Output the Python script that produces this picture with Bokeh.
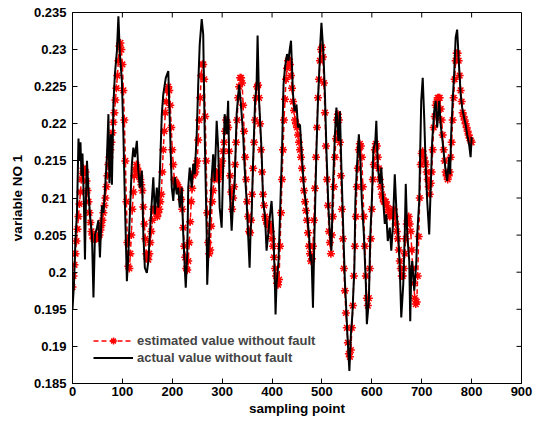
from bokeh.plotting import figure
from bokeh.models import FixedTicker, Legend, LegendItem, Range1d
from bokeh.embed import file_html
from bokeh.resources import INLINE

# estimated value (red, dashed with star markers), one value per 2 sampling points
est_x = list(range(0, 801, 2))
est_y = [
    0.1980, 0.1995, 0.2010, 0.2025, 0.2042, 0.2058, 0.2075, 0.2092, 0.2108, 0.2125,  # 0-18
    0.2133, 0.2140, 0.2138, 0.2135, 0.2123, 0.2110, 0.2095, 0.2080, 0.2067, 0.2055,  # 20-38
    0.2050, 0.2045, 0.2045, 0.2045, 0.2045, 0.2047, 0.2048, 0.2050, 0.2057, 0.2063,  # 40-58
    0.2070, 0.2080, 0.2090, 0.2100, 0.2115, 0.2130, 0.2145, 0.2155, 0.2165, 0.2175,  # 60-78
    0.2188, 0.2202, 0.2215, 0.2232, 0.2248, 0.2265, 0.2285, 0.2305, 0.2309, 0.2300,  # 80-98
    0.2280, 0.2245, 0.2205, 0.2150, 0.2095, 0.2040, 0.2008, 0.2005, 0.2025, 0.2050,  # 100-118
    0.2085, 0.2108, 0.2130, 0.2138, 0.2145, 0.2140, 0.2135, 0.2130, 0.2125, 0.2118,  # 120-138
    0.2110, 0.2088, 0.2065, 0.2045, 0.2025, 0.2018, 0.2017, 0.2025, 0.2040, 0.2055,  # 140-158
    0.2070, 0.2085, 0.2085, 0.2085, 0.2080, 0.2075, 0.2080, 0.2085, 0.2095, 0.2105,  # 160-178
    0.2135, 0.2165, 0.2190, 0.2215, 0.2230, 0.2245, 0.2250, 0.2245, 0.2225, 0.2195,  # 180-198
    0.2165, 0.2145, 0.2125, 0.2122, 0.2120, 0.2118, 0.2115, 0.2112, 0.2110, 0.2098,  # 200-218
    0.2085, 0.2060, 0.2035, 0.2020, 0.2005, 0.2003, 0.2015, 0.2040, 0.2068, 0.2095,  # 220-238
    0.2113, 0.2130, 0.2133, 0.2135, 0.2143, 0.2150, 0.2178, 0.2205, 0.2235, 0.2265,  # 240-258
    0.2280, 0.2280, 0.2260, 0.2210, 0.2150, 0.2080, 0.2040, 0.2025, 0.2030, 0.2062,  # 260-278
    0.2095, 0.2110, 0.2125, 0.2130, 0.2135, 0.2130, 0.2125, 0.2130, 0.2135, 0.2143,  # 280-298
    0.2150, 0.2163, 0.2175, 0.2190, 0.2205, 0.2202, 0.2195, 0.2163, 0.2130, 0.2108,  # 300-318
    0.2085, 0.2100, 0.2115, 0.2145, 0.2175, 0.2205, 0.2235, 0.2250, 0.2262, 0.2262,  # 320-338
    0.2255, 0.2225, 0.2190, 0.2155, 0.2125, 0.2095, 0.2075, 0.2055, 0.2053, 0.2070,  # 340-358
    0.2105, 0.2140, 0.2175, 0.2205, 0.2235, 0.2250, 0.2252, 0.2235, 0.2200, 0.2165,  # 360-378
    0.2135, 0.2105, 0.2090, 0.2075, 0.2070, 0.2065, 0.2065, 0.2065, 0.2060, 0.2055,  # 380-398
    0.2045, 0.2035, 0.2020, 0.2005, 0.1995, 0.1985, 0.1983, 0.1990, 0.2035, 0.2080,  # 400-418
    0.2125, 0.2165, 0.2205, 0.2233, 0.2260, 0.2275, 0.2285, 0.2287, 0.2280, 0.2265,  # 420-438
    0.2248, 0.2230, 0.2218, 0.2205, 0.2200, 0.2195, 0.2185, 0.2175, 0.2165, 0.2155,  # 440-458
    0.2140, 0.2125, 0.2110, 0.2095, 0.2083, 0.2070, 0.2053, 0.2035, 0.2025, 0.2015,  # 460-478
    0.2018, 0.2035, 0.2070, 0.2113, 0.2155, 0.2195, 0.2235, 0.2260, 0.2285, 0.2300,  # 480-498
    0.2303, 0.2290, 0.2255, 0.2215, 0.2170, 0.2125, 0.2090, 0.2055, 0.2040, 0.2025,  # 500-518
    0.2050, 0.2075, 0.2115, 0.2155, 0.2180, 0.2205, 0.2213, 0.2205, 0.2175, 0.2130,  # 520-538
    0.2085, 0.2045, 0.2005, 0.1975, 0.1945, 0.1925, 0.1905, 0.1890, 0.1886, 0.1895,  # 540-558
    0.1925, 0.1955, 0.1995, 0.2035, 0.2075, 0.2115, 0.2140, 0.2165, 0.2173, 0.2170,  # 560-578
    0.2155, 0.2115, 0.2075, 0.2035, 0.1995, 0.1965, 0.1955, 0.1965, 0.2005, 0.2045,  # 580-598
    0.2085, 0.2125, 0.2145, 0.2165, 0.2173, 0.2170, 0.2155, 0.2140, 0.2125, 0.2115,  # 600-618
    0.2105, 0.2100, 0.2095, 0.2095, 0.2095, 0.2090, 0.2085, 0.2080, 0.2075, 0.2078,  # 620-638
    0.2080, 0.2083, 0.2085, 0.2075, 0.2065, 0.2055, 0.2045, 0.2030, 0.2015, 0.2005,  # 640-658
    0.1995, 0.1995, 0.2005, 0.2025, 0.2045, 0.2065, 0.2070, 0.2075, 0.2065, 0.2055,  # 660-678
    0.2030, 0.2005, 0.1985, 0.1965, 0.1957, 0.1960, 0.1995, 0.2048, 0.2100, 0.2145,  # 680-698
    0.2160, 0.2163, 0.2155, 0.2150, 0.2145, 0.2135, 0.2125, 0.2115, 0.2105, 0.2120,  # 700-718
    0.2135, 0.2165, 0.2195, 0.2210, 0.2225, 0.2230, 0.2235, 0.2235, 0.2235, 0.2220,  # 720-738
    0.2205, 0.2185, 0.2165, 0.2150, 0.2135, 0.2130, 0.2125, 0.2130, 0.2135, 0.2155,  # 740-758
    0.2175, 0.2205, 0.2235, 0.2260, 0.2285, 0.2295, 0.2295, 0.2285, 0.2265, 0.2245,  # 760-778
    0.2230, 0.2215, 0.2210, 0.2205, 0.2200, 0.2195, 0.2190, 0.2185, 0.2181, 0.2177,  # 780-798
    0.2175,                                                                          # 800
]

# actual value (black solid)
act_x = [0, 3, 6, 9, 12, 14, 16, 18, 20, 23, 25, 27, 29, 32, 35, 39, 42, 45, 49, 52,
         55, 59, 62, 65, 69, 72, 74, 77, 79, 82, 85, 89, 92, 95, 99, 102, 105, 109, 112, 115,
         119, 122, 125, 129, 132, 135, 139, 142, 145, 149, 152, 155, 159, 162, 165, 169, 172, 175, 179, 182,
         187, 192, 195, 199, 202, 205, 209, 212, 215, 219, 222, 225, 227, 230, 232, 235, 239, 242, 245, 249,
         252, 255, 259, 262, 265, 269, 270, 274, 279, 282, 285, 289, 292, 295, 299, 302, 305, 309, 312, 315,
         319, 322, 325, 329, 334, 337, 342, 345, 349, 352, 355, 357, 359, 362, 366, 369, 371, 374, 379, 382,
         386, 389, 393, 396, 399, 403, 406, 407, 409, 413, 416, 420, 423, 426, 430, 433, 435, 438, 442, 445,
         449, 452, 456, 459, 464, 469, 474, 477, 479, 482, 485, 489, 492, 495, 497, 499, 503, 506, 509, 513,
         516, 519, 522, 526, 529, 533, 536, 539, 543, 546, 548, 551, 555, 558, 561, 565, 567, 570, 574, 577,
         580, 584, 588, 590, 594, 597, 600, 603, 607, 609, 612, 616, 619, 622, 626, 629, 632, 636, 639, 642,
         646, 649, 653, 656, 659, 663, 666, 668, 671, 675, 677, 679, 681, 685, 689, 691, 695, 697, 699, 702,
         705, 708, 711, 715, 718, 721, 725, 728, 731, 735, 738, 741, 745, 748, 751, 755, 757, 759, 762, 765,
         768, 771, 775, 778, 781, 785, 788, 791, 795, 798, 800]
act_y = [0.1950, 0.1985, 0.2045, 0.2080, 0.2180, 0.2150, 0.2175, 0.2130, 0.2160, 0.2090, 0.2017, 0.2100, 0.2150, 0.2110, 0.2078, 0.2050, 0.1966, 0.2050, 0.2060, 0.2070,
         0.2020, 0.2090, 0.2080, 0.2110, 0.2155, 0.2213, 0.2120, 0.2186, 0.2118, 0.2226, 0.2267, 0.2298, 0.2345, 0.2294, 0.2258, 0.2186, 0.2096, 0.1988, 0.2024, 0.2078,
         0.2146, 0.2168, 0.2155, 0.2177, 0.2137, 0.2114, 0.2137, 0.2051, 0.2006, 0.1999, 0.2015, 0.2051, 0.2096, 0.2128, 0.2078, 0.2114, 0.2087, 0.2132, 0.2213, 0.2240,
         0.2262, 0.2271, 0.2204, 0.2114, 0.2096, 0.2128, 0.2105, 0.2114, 0.2087, 0.2114, 0.2051, 0.2006, 0.1979, 0.2024, 0.2114, 0.2141, 0.2114, 0.2146, 0.2132, 0.2186,
         0.2253, 0.2307, 0.2341, 0.2321, 0.2186, 0.2051, 0.1983, 0.2051, 0.2128, 0.2159, 0.2123, 0.2204, 0.2168, 0.2087, 0.2060, 0.2141, 0.2213, 0.2186, 0.2231, 0.2114,
         0.2056, 0.2096, 0.2119, 0.2213, 0.2253, 0.2231, 0.2186, 0.2141, 0.2096, 0.2051, 0.2006, 0.2056, 0.2074, 0.2150, 0.2231, 0.2253, 0.2319, 0.2231, 0.2164, 0.2096,
         0.2074, 0.2029, 0.2056, 0.2078, 0.2096, 0.2051, 0.1975, 0.1943, 0.1984, 0.2015, 0.2078, 0.2164, 0.2253, 0.2276, 0.2294, 0.2285, 0.2298, 0.2312, 0.2240, 0.2217,
         0.2226, 0.2195, 0.2199, 0.2164, 0.2114, 0.2087, 0.2051, 0.2015, 0.2024, 0.1952, 0.2051, 0.2164, 0.2231, 0.2276, 0.2312, 0.2336, 0.2294, 0.2240, 0.2164, 0.2087,
         0.2051, 0.2029, 0.2114, 0.2186, 0.2222, 0.2177, 0.2217, 0.2141, 0.2051, 0.1988, 0.1961, 0.1916, 0.1867, 0.1916, 0.1943, 0.2006, 0.2096, 0.2141, 0.2186, 0.2150,
         0.2096, 0.2051, 0.1984, 0.1930, 0.1961, 0.2051, 0.2096, 0.2164, 0.2177, 0.2204, 0.2141, 0.2119, 0.2141, 0.2105, 0.2065, 0.2078, 0.2042, 0.2060, 0.2029, 0.2060,
         0.2132, 0.2087, 0.2051, 0.2006, 0.1939, 0.1984, 0.2051, 0.2119, 0.2051, 0.2015, 0.1934, 0.2002, 0.2015, 0.1975, 0.2011, 0.2051, 0.2096, 0.2164, 0.2231, 0.2262,
         0.2208, 0.2141, 0.2096, 0.2051, 0.2114, 0.2177, 0.2217, 0.2231, 0.2195, 0.2231, 0.2199, 0.2181, 0.2155, 0.2137, 0.2123, 0.2155, 0.2132, 0.2186, 0.2231, 0.2267,
         0.2316, 0.2327, 0.2276, 0.2240, 0.2222, 0.2208, 0.2199, 0.2186, 0.2172, 0.2155, 0.2182]

x_ticks = [0, 100, 200, 300, 400, 500, 600, 700, 800, 900]
y_ticks = [0.185, 0.19, 0.195, 0.2, 0.205, 0.21, 0.215, 0.22, 0.225, 0.23, 0.235]
y_tick_labels = ["0.185", "0.19", "0.195", "0.2", "0.205", "0.21", "0.215", "0.22", "0.225", "0.23", "0.235"]

FONT = "Liberation Sans"
X_MIN, X_MAX = 0, 900
Y_MIN, Y_MAX = 0.185, 0.235

p = figure(width=535, height=423, output_backend="svg", toolbar_location=None,
           x_range=Range1d(X_MIN, X_MAX), y_range=Range1d(Y_MIN, Y_MAX),
           min_border_left=72, min_border_right=14, min_border_top=12, min_border_bottom=40,
           x_axis_label="sampling point", y_axis_label="variable NO 1")
p.background_fill_color = "white"
p.border_fill_color = "white"
p.grid.visible = False
p.outline_line_color = "black"
p.outline_line_width = 1

p.xaxis.ticker = FixedTicker(ticks=x_ticks)
p.yaxis.ticker = FixedTicker(ticks=y_ticks)
p.yaxis.major_label_overrides = {t: s for t, s in zip(y_ticks, y_tick_labels)}

for ax in (p.xaxis[0], p.yaxis[0]):
    ax.major_tick_in = 5
    ax.major_tick_out = 0
    ax.minor_tick_line_color = None
    ax.axis_line_color = "black"
    ax.major_tick_line_color = "black"
    ax.major_label_text_font = FONT
    ax.major_label_text_font_style = "bold"
    ax.major_label_text_font_size = "13px"
    ax.major_label_text_color = "black"
    ax.axis_label_text_font = FONT
    ax.axis_label_text_font_style = "bold"
    ax.axis_label_text_font_size = "13.5px"
    ax.axis_label_text_color = "black"
p.xaxis.major_label_standoff = 3
p.xaxis.axis_label_standoff = 2
p.yaxis.major_label_standoff = 6
p.yaxis.axis_label_standoff = 6

# mirrored inward ticks on the top and right edges of the box
p.ray(x=x_ticks, y=[Y_MAX] * len(x_ticks), length=5, length_units="screen",
      angle=270, angle_units="deg", line_color="black", line_width=1)
p.ray(x=[X_MAX] * len(y_ticks), y=y_ticks, length=5, length_units="screen",
      angle=180, angle_units="deg", line_color="black", line_width=1)

r_est_line = p.line(est_x, est_y, line_color="red", line_width=1.5, line_dash="5 3")
r_est_mark = p.scatter(est_x, est_y, marker="asterisk", size=8, line_color="red", line_width=1.5)
r_act = p.line(act_x, act_y, line_color="black", line_width=2)

legend = Legend(items=[LegendItem(label="estimated value without fault", renderers=[r_est_line, r_est_mark]),
                       LegendItem(label="actual value without fault", renderers=[r_act])],
                location=(21, 17), border_line_color=None, background_fill_alpha=0,
                label_text_font=FONT, label_text_font_style="bold", label_text_font_size="13px",
                glyph_width=40, glyph_height=17, label_height=17, spacing=0, padding=0, margin=0,
                label_standoff=4)
p.add_layout(legend)

open("out.html", "w").write(file_html(p, INLINE))
